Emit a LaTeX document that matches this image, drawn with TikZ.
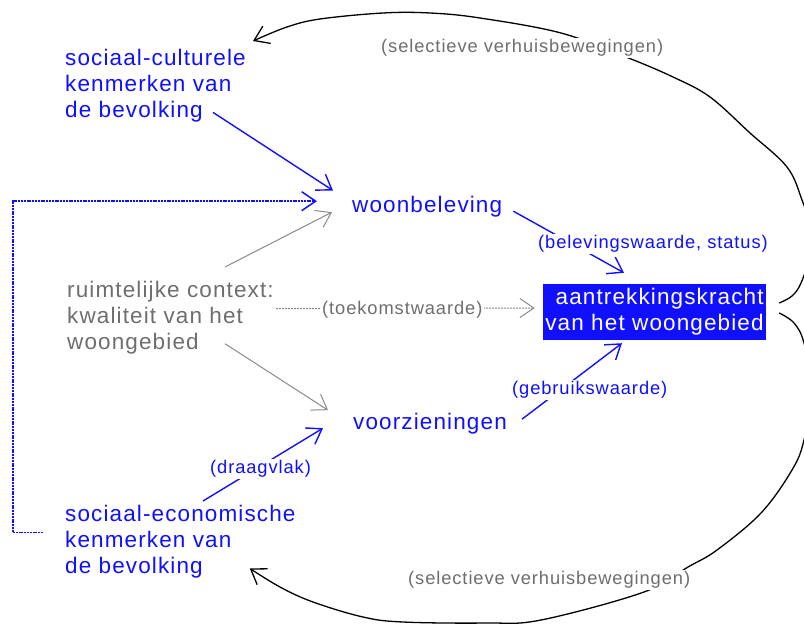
\documentclass[tikz,border=0pt]{standalone}
\usepackage{fontspec}
\setmainfont{Liberation Sans}[LetterSpace=5]
\usepackage{tikz}
\usetikzlibrary{arrows.meta,calc}
\definecolor{woonBlue}{HTML}{1010FF}
\definecolor{woonGray}{HTML}{6E6E6E}
\definecolor{lineGray}{HTML}{8A8A8A}

\begin{document}
\begin{tikzpicture}[
    x=1pt,y=-1pt,
    >={Straight Barb[length=14pt,width=19pt]},
    every node/.style={inner sep=0pt},
    txt/.style ={font=\fontsize{22.5}{26}\selectfont,align=left,anchor=north west},
    blk/.style ={txt,text=woonBlue},
    ctx/.style ={txt,text=woonGray},
    doel/.style={font=\fontsize{22.5}{26}\selectfont,align=right,fill=woonBlue,text=white,
                 minimum width=223pt,minimum height=56pt},
    lab/.style ={font=\fontsize{18.3}{20}\selectfont,fill=white,inner xsep=2pt,inner ysep=1.5pt,anchor=west},
    arr/.style ={->,line width=1.4pt,woonBlue},
    garr/.style={->,line width=1pt,lineGray},
    migr/.style={->,line width=1.3pt,black}
  ]
  \useasboundingbox (0,0) rectangle (804,624);
  \node[blk] (cult) at (65,49) {sociaal-culturele\\kenmerken van\\de bevolking};
  \node[blk,anchor=base west] (woon) at (352,212) {woonbeleving};
  \node[ctx] (ruim) at (67,281) {ruimtelijke context:\\kwaliteit van het\\woongebied};
  \node[doel] (aan) at (654.5,312) {aantrekkingskracht\\van het woongebied};
  \node[blk,anchor=base west] (voor) at (353,429) {voorzieningen};
  \node[blk] (sec) at (65,505) {sociaal-economische\\kenmerken van\\de bevolking};
  \draw[arr] ($(cult.south east)+(-33,-10)$) -- ($(woon.north west)+(-19,-5)$);
  \draw[garr] ($(ruim.north east)+(-49,-14)$) -- ($(woon.west)+(-20,6)$);
  \draw[garr,dash pattern=on 2pt off 1pt] ($(ruim.east)+(2,-9)$) -- ($(aan.west)+(-8,-4)$);
  \draw[garr] ($(ruim.east)+(-49,26)$) -- ($(voor.west)+(-25,-13)$);
  \draw[arr] ($(sec.north west)+(138,-4)$) -- ($(voor.west)+(-30,5)$);
  \draw[arr] ($(woon.east)+(11,5)$) -- ($(aan.north)+(-30.5,-11)$);
  \draw[arr] ($(voor.east)+(15,-4)$) -- ($(aan.south)+(-32.5,3)$);
  \draw[arr,line width=1.5pt,dash pattern=on 2pt off 0.8pt]
        ($(sec.west)+(-22,-9)$) -- ++(-30,0) |- ($(woon.west)+(-35,-5)$);
  \draw[migr] plot[smooth,tension=0.6] coordinates {($(aan.east)+(13,-9)$) (792,296) (801,283)
        (810,255) (811,230) (802,200) (787,167) (750,133) (710,97) (673,77) (626,57) (561,33)
        (480,18) (430,13) (383,13) (320,19) (287,27) ($(cult.north east)+(7,-8)$)};
  \draw[migr] plot[smooth,tension=0.6] coordinates {($(aan.east)+(13,1)$) (794,323) (804,343)
        (812,390) (804,440) (792,470) (761,513) (717,550) (688,567) (644,592) (541,620)
        (486,623) (403,622) (363,617) (313,602) (280,587) ($(sec.south east)+(-46,-10)$)};
  \node[lab,text=woonGray] (sel1) at (379,48) {(selectieve verhuisbewegingen)};
  \node[lab,text=woonGray] (sel2) at (406,580) {(selectieve verhuisbewegingen)};
  \node[lab,text=woonGray] (tk) at (320,310) {(toekomstwaarde)};
  \node[lab,text=woonBlue] (bel) at (536,244) {(belevingswaarde, status)};
  \node[lab,text=woonBlue] (geb) at (510,390) {(gebruikswaarde)};
  \node[lab,text=woonBlue] (drg) at (208,469) {(draagvlak)};
\end{tikzpicture}
\end{document}
